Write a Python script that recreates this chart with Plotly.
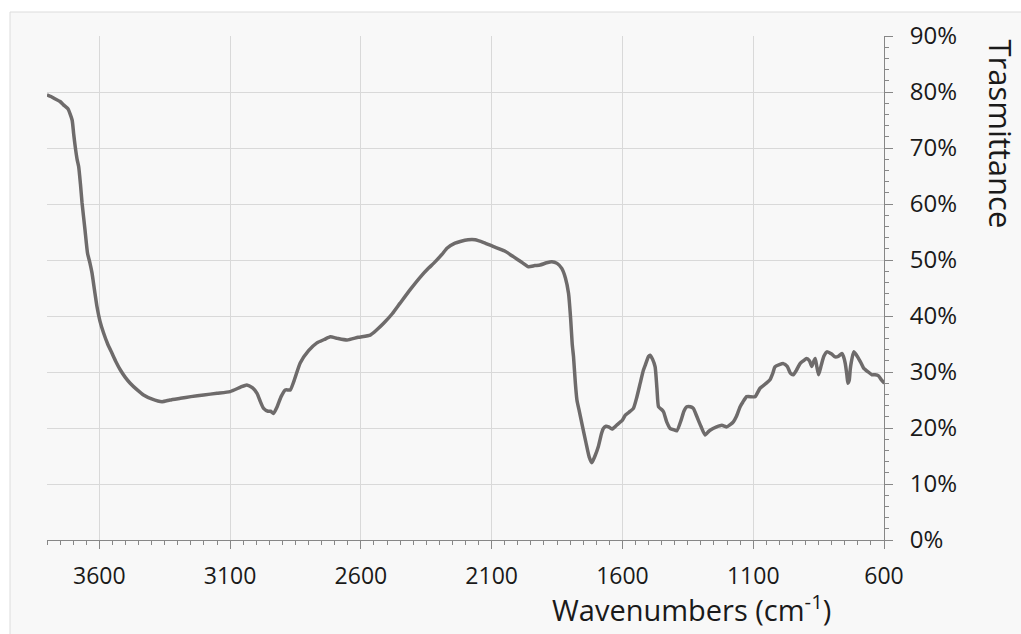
import plotly.graph_objects as go

wavenumber = [3800, 3785, 3770, 3750, 3737, 3720, 3704, 3698, 3692, 3685, 3679, 3672, 3666, 3655, 3645, 3636,
              3628, 3618, 3609, 3597, 3584, 3568, 3552, 3536, 3520, 3500, 3482, 3455, 3431, 3400, 3360, 3330,
              3290, 3250, 3201, 3150, 3100, 3060, 3036, 3015, 2997, 2985, 2972, 2955, 2945, 2934, 2920, 2905,
              2889, 2870, 2855, 2832, 2800, 2768, 2740, 2717, 2690, 2653, 2610, 2564, 2540, 2513, 2480, 2450,
              2410, 2372, 2340, 2322, 2290, 2271, 2240, 2220, 2190, 2163, 2130, 2093, 2050, 2017, 1985, 1959,
              1935, 1915, 1890, 1870, 1850, 1832, 1818, 1806, 1798, 1792, 1787, 1780, 1774, 1765, 1755, 1740,
              1727, 1717, 1705, 1692, 1680, 1673, 1663, 1653, 1640, 1620, 1600, 1589, 1570, 1558, 1545, 1532,
              1520, 1513, 1500, 1494, 1485, 1475, 1468, 1462, 1450, 1443, 1430, 1417, 1405, 1392, 1375, 1365,
              1354, 1340, 1329, 1315, 1300, 1284, 1270, 1265, 1240, 1220, 1201, 1188, 1176, 1165, 1150, 1140,
              1125, 1093, 1074, 1050, 1036, 1025, 1017, 1000, 985, 970, 958, 947, 935, 921, 908, 896,
              885, 876, 869, 863, 857, 850, 840, 830, 818, 800, 787, 775, 761, 755, 748, 742,
              738, 733, 729, 726, 716, 705, 690, 678, 660, 646, 634, 621, 610, 598]

transmittance = [79.5, 79.2, 78.8, 78.3, 77.7, 77.0, 75.0, 72.5, 70.2, 68.0, 66.7, 63.5, 60.2, 55.5, 51.2, 49.5,
                 47.7, 44.5, 41.7, 39.0, 37.0, 35.0, 33.4, 31.8, 30.4, 29.0, 28.0, 26.8, 25.9, 25.2, 24.7, 25.0,
                 25.3, 25.6, 25.9, 26.2, 26.5, 27.3, 27.7, 27.2, 26.2, 24.8, 23.5, 23.0, 23.0, 22.6, 23.8, 25.6,
                 26.8, 26.8, 28.5, 31.6, 33.8, 35.2, 35.8, 36.3, 36.0, 35.7, 36.2, 36.6, 37.5, 38.7, 40.4, 42.3,
                 44.8, 47.0, 48.6, 49.4, 51.0, 52.1, 53.0, 53.3, 53.6, 53.6, 53.1, 52.4, 51.6, 50.6, 49.6, 48.8,
                 49.0, 49.1, 49.5, 49.7, 49.4, 48.5, 46.8, 44.0, 39.5, 35.0, 32.7, 28.0, 25.0, 23.0, 20.8, 17.5,
                 14.8, 13.8, 15.0, 16.7, 19.0, 19.9, 20.3, 20.2, 19.8, 20.6, 21.4, 22.3, 23.0, 23.5, 25.5, 28.0,
                 30.3, 31.2, 32.8, 33.0, 32.3, 30.9, 27.0, 23.8, 23.3, 22.9, 21.0, 19.9, 19.7, 19.5, 21.5, 23.0,
                 23.8, 23.8, 23.5, 22.0, 20.3, 18.75, 19.4, 19.6, 20.2, 20.5, 20.2, 20.6, 21.1, 22.0, 23.8, 24.6,
                 25.6, 25.6, 27.1, 28.0, 28.6, 29.8, 30.9, 31.3, 31.5, 31.0, 29.8, 29.5, 30.3, 31.5, 32.0, 32.4,
                 32.0, 31.0, 31.9, 32.4, 31.0, 29.5, 31.2, 32.8, 33.6, 33.2, 32.7, 32.8, 33.3, 32.8, 31.5, 29.5,
                 28.0, 28.5, 30.5, 31.5, 33.6, 33.0, 31.8, 30.7, 30.0, 29.5, 29.5, 29.3, 28.6, 28.0]

x_ticks = [3600, 3100, 2600, 2100, 1600, 1100, 600]
y_ticks = [0, 10, 20, 30, 40, 50, 60, 70, 80, 90]
y_labels = [f"{v}%" for v in y_ticks]

FONT = "Open Sans"
AX = "#878787"
GRID = "#d9d9d9"
TXT = "#1a1a1a"

fig = go.Figure()
fig.add_trace(go.Scatter(
    x=wavenumber, y=transmittance, mode="lines",
    line=dict(color="#6e6b6b", width=3.5, shape="spline", smoothing=0.5),
    showlegend=False, hoverinfo="skip",
))

fig.update_layout(
    width=1021, height=634,
    margin=dict(l=47, r=137, t=36, b=94),
    paper_bgcolor="white",
    plot_bgcolor="rgba(0,0,0,0)",
    font=dict(family=FONT, color=TXT),
    shapes=[dict(type="rect", xref="paper", yref="paper", layer="below",
                 x0=-37 / 837, x1=1.2, y0=-0.3, y1=1 + 24 / 504,
                 line=dict(color="#dcdcdc", width=1), fillcolor="#f8f8f8")],
    annotations=[
        dict(text="Trasmittance", textangle=90, xref="paper", yref="paper",
             x=(1001 - 47) / 837, y=(540 - 37) / 504, xanchor="center", yanchor="top",
             showarrow=False, font=dict(size=31, family=FONT, color=TXT)),
        dict(text="Wavenumbers (cm<sup>-1</sup>)", xref="paper", yref="paper",
             x=(691 - 47) / 837, y=-(608 - 540) / 504, xanchor="center", yanchor="middle",
             showarrow=False, font=dict(size=29, family=FONT, color=TXT)),
    ],
)

fig.update_xaxes(
    range=[3800, 600], tickmode="array", tickvals=x_ticks, ticktext=[str(v) for v in x_ticks],
    showgrid=True, gridcolor=GRID, gridwidth=1,
    showline=True, linecolor=AX, linewidth=1,
    ticks="outside", ticklen=8, tickcolor=AX, tickwidth=1,
    minor=dict(tick0=600, dtick=50, ticks="outside", ticklen=4, tickcolor=AX, showgrid=False),
    tickfont=dict(size=23, family=FONT, color=TXT),
    ticklabelstandoff=7,
    zeroline=False,
)
fig.update_yaxes(
    range=[0, 90], side="right", tickmode="array", tickvals=y_ticks, ticktext=y_labels,
    showgrid=True, gridcolor=GRID, gridwidth=1,
    showline=True, linecolor=AX, linewidth=1,
    ticks="outside", ticklen=8, tickcolor=AX, tickwidth=1,
    minor=dict(tick0=0, dtick=2, ticks="outside", ticklen=4, tickcolor=AX, showgrid=False),
    tickfont=dict(size=24, family=FONT, color=TXT),
    ticklabelstandoff=12,
    zeroline=False,
)

fig.write_html("out.html")
